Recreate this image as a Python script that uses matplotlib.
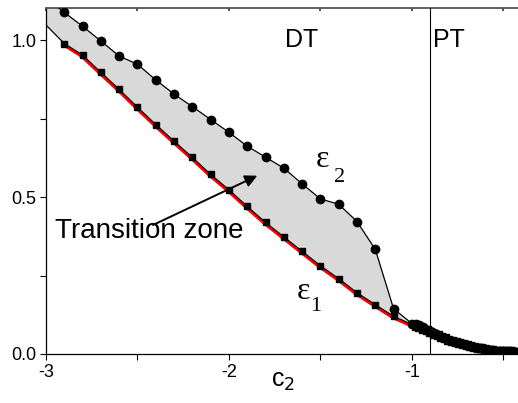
import numpy as np
import matplotlib
matplotlib.use('Agg')
import matplotlib.pyplot as plt
import matplotlib.transforms as mtransforms

plt.rcParams['font.family'] = ['Liberation Sans', 'DejaVu Sans']

# Data
c2_main = [-3.0, -2.9, -2.8, -2.7, -2.6, -2.5, -2.4, -2.3, -2.2, -2.1, -2.0,
           -1.9, -1.8, -1.7, -1.6, -1.5, -1.4, -1.3, -1.2, -1.1, -1.0]
eps1_main = [1.048, 0.989, 0.952, 0.897, 0.843, 0.786, 0.731, 0.678, 0.626, 0.572, 0.523,
             0.470, 0.419, 0.373, 0.327, 0.281, 0.240, 0.195, 0.157, 0.120, 0.094]
eps2_main = [1.134, 1.088, 1.044, 0.997, 0.949, 0.923, 0.873, 0.828, 0.788, 0.747, 0.706,
             0.662, 0.627, 0.592, 0.542, 0.494, 0.477, 0.422, 0.333, 0.144, 0.097]

# dense tail (both sets merge here)
c2_tail = [-0.98, -0.96, -0.94, -0.92, -0.90, -0.88, -0.86, -0.84, -0.82, -0.80,
           -0.78, -0.76, -0.74, -0.72, -0.70, -0.68, -0.66, -0.64, -0.62, -0.60,
           -0.58, -0.56, -0.54, -0.52, -0.50, -0.48, -0.46, -0.44, -0.42]
eps1_tail = [0.090, 0.085, 0.080, 0.075, 0.070, 0.065, 0.060, 0.055, 0.050, 0.046,
             0.042, 0.038, 0.034, 0.031, 0.028, 0.025, 0.022, 0.020, 0.018, 0.016,
             0.014, 0.012, 0.011, 0.010, 0.009, 0.008, 0.008, 0.007, 0.007]
eps2_tail = [0.094, 0.092, 0.085, 0.078, 0.072, 0.066, 0.060, 0.055, 0.050, 0.046,
             0.042, 0.038, 0.034, 0.031, 0.028, 0.025, 0.022, 0.020, 0.018, 0.016,
             0.014, 0.012, 0.011, 0.010, 0.009, 0.008, 0.008, 0.007, 0.007]

c2_boundary = -0.9
xticks = [-3, -2, -1]
xtick_labels = ['-3', '-2', '-1']
yticks = [0.0, 0.5, 1.0]
ytick_labels = ['0.0', '0.5', '1.0']

x1 = np.array(c2_main + c2_tail)
y1 = np.array(eps1_main + eps1_tail)
x2 = np.array(c2_main + c2_tail)
y2 = np.array(eps2_main + eps2_tail)
n_main = len(c2_main)

fig = plt.figure(figsize=(5.18, 4.03), dpi=100)
ax = fig.add_axes([0.0888, 0.1216, 0.9112, 0.8584])

# shaded transition zone
ax.fill_between(c2_main, eps1_main, eps2_main, color='#d9d9d9', lw=0, zorder=1)

# red curve, peeking out just below eps1
red_off = mtransforms.offset_copy(ax.transData, fig=fig, x=-0.8, y=-1.3, units='dots')
ax.plot(c2_main[1:], eps1_main[1:], color='#ff0000', lw=2.2, transform=red_off, zorder=2)

ax.plot(x2, y2, color='black', lw=0.9, marker='o', ms=6, markevery=range(1, len(x2)), zorder=3)
ax.plot(x1, y1, color='black', lw=0.9, marker='s', ms=5, markevery=range(1, len(x1)), zorder=4)
# tail markers a bit heavier
ax.plot(c2_tail, eps1_tail, ls='none', color='black', marker='s', ms=6, zorder=4)

ax.axvline(c2_boundary, color='black', lw=0.8, zorder=5)

ax.set_xlim(-3, -0.42)
ax.set_ylim(0, 1.102)
ax.set_xticks(xticks)
ax.set_xticklabels(xtick_labels)
ax.set_xticks([-2.5, -1.5, -0.5], minor=True)
ax.set_yticks(yticks)
ax.set_yticklabels(ytick_labels)
ax.set_yticks([0.25, 0.75], minor=True)
ax.tick_params(which='both', direction='out', length=4, width=0.8, labelsize=13,
               top=False, right=False, pad=3)

ax.spines['right'].set_visible(False)
ax.spines['top'].set_color('#555555')
ax.spines['top'].set_linewidth(1.3)
for s in ['left', 'bottom']:
    ax.spines[s].set_linewidth(0.9)

# top tick marks (inward, unlabeled)
sec = ax.secondary_xaxis('top')
sec.set_xticks([-3, -2.5, -2, -1.5, -1, -0.5])
sec.set_xticklabels([])
sec.tick_params(direction='in', length=2, width=1.2, color='#333333')
sec.spines['top'].set_visible(False)

ax.text(-1.6, 1.0, 'DT', fontsize=18, ha='center', va='center')
ax.text(-0.885, 1.0, 'PT', fontsize=18, ha='left', va='center')

ax.text(-2.952, 0.392, 'Transition zone', fontsize=20, ha='left', va='center')
ax.annotate('', xy=(-1.845, 0.568), xytext=(-2.415, 0.411),
            arrowprops=dict(arrowstyle='-|>', color='black', lw=1.4,
                            shrinkA=0, shrinkB=0, mutation_scale=18))

serif = ['Liberation Serif', 'DejaVu Serif']
ax.text(-1.49, 0.62, 'ε', fontsize=23, family=serif, ha='center', va='center')
ax.text(-1.395, 0.562, '2', fontsize=16, family=serif, ha='center', va='center')
ax.text(-1.59, 0.198, 'ε', fontsize=23, family=serif, ha='center', va='center')
ax.text(-1.525, 0.152, '1', fontsize=16, family=serif, ha='center', va='center')

ax.text(0.503, -0.095, 'c$_2$', fontsize=18, ha='center', va='baseline',
        transform=ax.transAxes)

fig.savefig('out.png', dpi=100)
